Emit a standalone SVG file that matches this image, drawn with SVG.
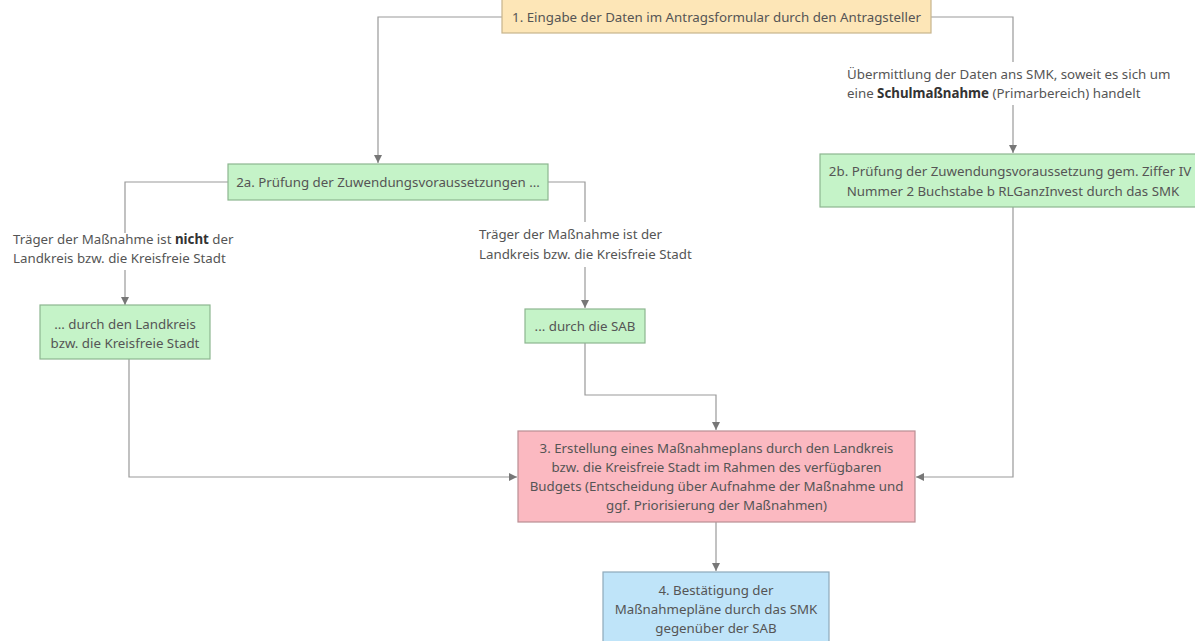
<svg xmlns="http://www.w3.org/2000/svg" width="1195" height="641" viewBox="0 0 1195 641">
<defs>
<marker id="arr" markerWidth="10" markerHeight="10" refX="8" refY="4" orient="auto" markerUnits="userSpaceOnUse">
<path d="M0,0 L8,4 L0,8 Z" fill="#777"/>
</marker>
<style>
text{font-family:"Noto Sans","Open Sans",sans-serif;font-size:13.3px;fill:#555}
.c{text-anchor:middle}
.b{font-weight:bold;fill:#333}
.ln{fill:none;stroke:#999;stroke-width:1.2}
.orange{fill:#fde6b7;stroke:#c7b48c;stroke-width:1.2}
.green{fill:#c5f3c8;stroke:#8db690;stroke-width:1.2}
.pink{fill:#fbb9c1;stroke:#b98e93;stroke-width:1.2}
.blue{fill:#bfe4f9;stroke:#8ea9ba;stroke-width:1.2}
</style>
</defs>
<rect width="1195" height="641" fill="#ffffff"/>
<g id="connectors">
<path class="ln" d="M502,17 H378 V163" marker-end="url(#arr)"/>
<path class="ln" d="M931,17 H1013 V62"/>
<path class="ln" d="M1013,105 V153" marker-end="url(#arr)"/>
<path class="ln" d="M228,182 H125 V233"/>
<path class="ln" d="M125,270 V305" marker-end="url(#arr)"/>
<path class="ln" d="M548,182 H585 V222"/>
<path class="ln" d="M585,267 V308" marker-end="url(#arr)"/>
<path class="ln" d="M129,359 V477 H517" marker-end="url(#arr)"/>
<path class="ln" d="M585,343 V395 H716 V430" marker-end="url(#arr)"/>
<path class="ln" d="M1013,207 V477 H916" marker-end="url(#arr)"/>
<path class="ln" d="M716,522 V571" marker-end="url(#arr)"/>
</g>
<g id="labels">
<text x="847" y="79">Übermittlung der Daten ans SMK, soweit es sich um</text>
<text x="847" y="98">eine <tspan class="b">Schulmaßnahme</tspan> (Primarbereich) handelt</text>
<text x="13" y="244">Träger der Maßnahme ist <tspan class="b">nicht</tspan> der</text>
<text x="13" y="263">Landkreis bzw. die Kreisfreie Stadt</text>
<text x="479" y="239">Träger der Maßnahme ist der</text>
<text x="479" y="259">Landkreis bzw. die Kreisfreie Stadt</text>
</g>
<g id="n1">
<rect class="orange" x="502" y="-2" width="429" height="35"/>
<text class="c" x="716.5" y="22">1. Eingabe der Daten im Antragsformular durch den Antragsteller</text>
</g>
<g id="n2a">
<rect class="green" x="228" y="164" width="320" height="36"/>
<text class="c" x="388" y="187">2a. Prüfung der Zuwendungsvoraussetzungen ...</text>
</g>
<g id="n2b">
<rect class="green" x="820" y="154" width="386" height="53"/>
<text class="c" x="1010" y="176">2b. Prüfung der Zuwendungsvoraussetzung gem. Ziffer IV</text>
<text class="c" x="1013" y="196">Nummer 2 Buchstabe b RLGanzInvest durch das SMK</text>
</g>
<g id="nLandkreis">
<rect class="green" x="40" y="305" width="170" height="54"/>
<text class="c" x="125" y="329">... durch den Landkreis</text>
<text class="c" x="125" y="348">bzw. die Kreisfreie Stadt</text>
</g>
<g id="nSAB">
<rect class="green" x="525" y="309" width="120" height="34"/>
<text class="c" x="585" y="331">... durch die SAB</text>
</g>
<g id="n3">
<rect class="pink" x="518" y="431" width="397" height="91"/>
<text class="c" x="716.5" y="453">3. Erstellung eines Maßnahmeplans durch den Landkreis</text>
<text class="c" x="716.5" y="472">bzw. die Kreisfreie Stadt im Rahmen des verfügbaren</text>
<text class="c" x="716.5" y="491">Budgets (Entscheidung über Aufnahme der Maßnahme und</text>
<text class="c" x="716.5" y="510">ggf. Priorisierung der Maßnahmen)</text>
</g>
<g id="n4">
<rect class="blue" x="603" y="572" width="226" height="80"/>
<text class="c" x="716" y="595">4. Bestätigung der</text>
<text class="c" x="716" y="614">Maßnahmepläne durch das SMK</text>
<text class="c" x="716" y="633">gegenüber der SAB</text>
</g>
</svg>
